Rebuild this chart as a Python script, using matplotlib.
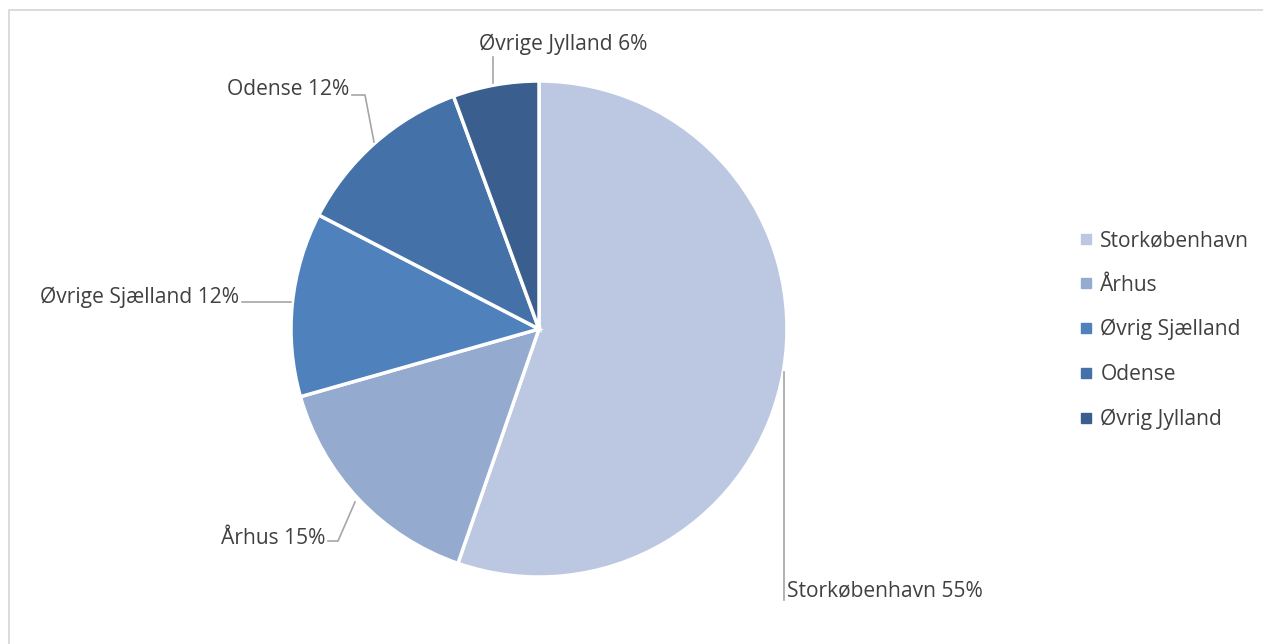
import matplotlib
matplotlib.use("Agg")
import matplotlib.pyplot as plt
from matplotlib.lines import Line2D
from matplotlib.patches import Rectangle

# ---- data ----
categories = ["Storkøbenhavn", "Århus", "Øvrig Sjælland", "Odense", "Øvrig Jylland"]
label_names = ["Storkøbenhavn", "Århus", "Øvrige Sjælland", "Odense", "Øvrige Jylland"]
shares = [55.3, 15.3, 12.0, 11.8, 5.6]
colors = ["#BCC8E1", "#95AACF", "#4F81BD", "#4472A8", "#3A5F8E"]

W, H = 1263, 644
fig = plt.figure(figsize=(W / 100, H / 100), dpi=100)
ax = fig.add_axes([0, 0, 1, 1])

FONT = "Open Sans"
TXT = "#404040"
FS = 15.1

# chart border
fig.patches.append(Rectangle((9 / W, -0.1), 1.2, (H - 10) / H + 0.1, transform=fig.transFigure,
                             fill=False, edgecolor="#D9D9D9", linewidth=1.3))

cx, cy, r = 539, H - 329, 248
wedges, _ = ax.pie(shares, colors=colors, startangle=90, counterclock=False,
                   center=(cx, cy), radius=r, frame=True,
                   wedgeprops=dict(edgecolor="white", linewidth=2.5))
ax.set_xlim(0, W)
ax.set_ylim(0, H)
ax.set_aspect("equal")
ax.axis("off")

def Y(py):
    return H - py

lead = dict(color="#A6A6A6", linewidth=1.2)

# data labels with leader lines (pixel layout)
texts = [f"{n} {round(v):.0f}%" for n, v in zip(label_names, shares)]
# Storkøbenhavn
ax.plot([784, 784], [Y(372), Y(600)], **lead)
ax.text(787, Y(591), texts[0], ha="left", va="center", fontsize=FS, color=TXT, family=FONT)
# Århus
ax.plot([328, 338, 355], [Y(541), Y(541), Y(502)], **lead)
ax.text(325, Y(538), texts[1], ha="right", va="center", fontsize=FS, color=TXT, family=FONT)
# Øvrige Sjælland
ax.plot([242, 291], [Y(302), Y(302)], **lead)
ax.text(239, Y(297), texts[2], ha="right", va="center", fontsize=FS, color=TXT, family=FONT)
# Odense
ax.plot([352, 365, 374], [Y(95), Y(95), Y(142)], **lead)
ax.text(349, Y(89), texts[3], ha="right", va="center", fontsize=FS, color=TXT, family=FONT)
# Øvrige Jylland
ax.plot([493, 493], [Y(57), Y(83)], **lead)
ax.text(563, Y(44), texts[4], ha="center", va="center", fontsize=FS, color=TXT, family=FONT)

# legend
handles = [Line2D([], [], linestyle="none", marker="s", markersize=7,
                  markerfacecolor=c, markeredgecolor=c) for c in colors]
leg = ax.legend(handles, categories, loc="center left", bbox_to_anchor=(1070 / W, (H - 330) / H),
                frameon=False, prop=dict(family=FONT, size=FS), labelcolor=TXT,
                handlelength=0.5, handletextpad=0.45, labelspacing=1.12, borderpad=0)

fig.savefig("out.png", dpi=100)
